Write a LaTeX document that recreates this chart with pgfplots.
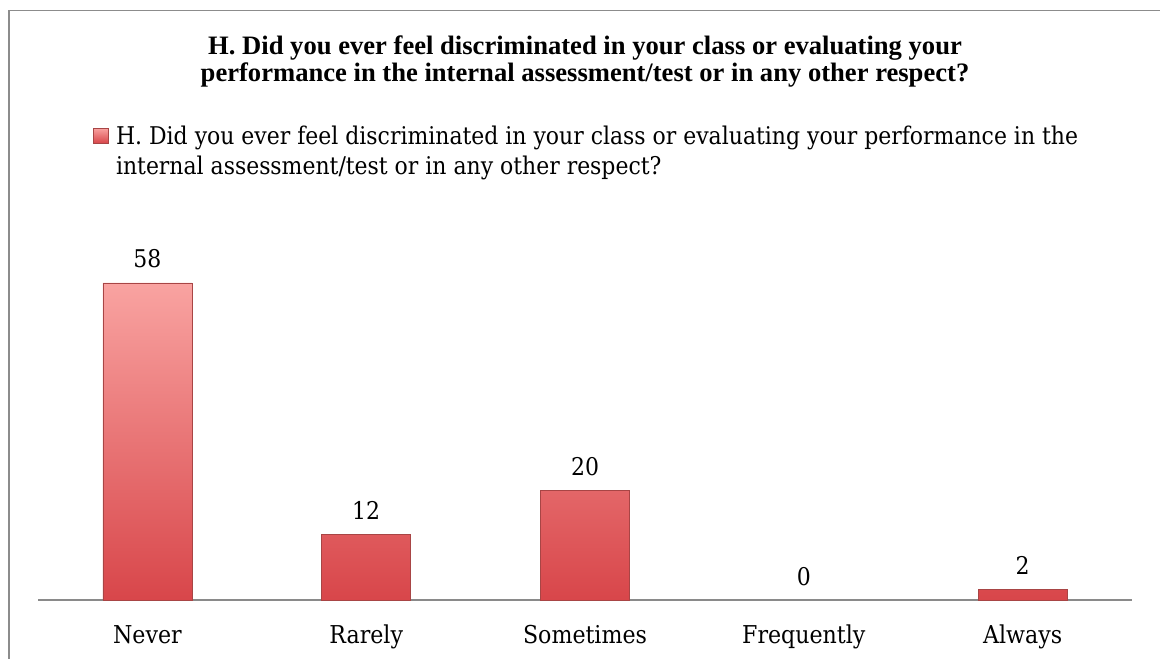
\documentclass[border=0pt]{standalone}
\usepackage{fontspec}
\setmainfont{DejaVu Serif Condensed}
\newfontfamily\titlefont{Liberation Serif}
\usepackage{pgfplots}
\pgfplotsset{compat=1.18}
\definecolor{framegray}{HTML}{8C8C8C}
\definecolor{axisgray}{HTML}{8A8A8A}
\definecolor{bartop}{HTML}{F9A3A1}
\definecolor{barmid}{HTML}{EE8480}
\definecolor{barbot}{HTML}{D8464A}
\definecolor{baredge}{HTML}{A84545}
\begin{document}
\begin{tikzpicture}[x=1pt,y=1pt]
\useasboundingbox (0,0) rectangle (580,329);
\draw[framegray, line width=0.75pt] (4.5,-2) -- (4.5,323.75) -- (582,323.75);
\begin{axis}[
  at={(19pt,29pt)}, anchor=south west,
  scale only axis, width=547pt, height=191.3pt,
  xmin=-0.5, xmax=4.5, ymin=0, ymax=70,
  axis x line=bottom, axis y line=none,
  axis line style={-, draw=axisgray, line width=1pt},
  xtick={0,1,2,3,4},
  xticklabels={Never,Rarely,Sometimes,Frequently,Always},
  major tick length=0pt,
  xticklabel style={font=\fontsize{12.3}{14}\selectfont, anchor=base, yshift=-21.5pt},
  /pgf/number format/assume math mode=true,
  ybar, bar width=44.5pt, bar shift=0pt,
  nodes near coords,
  nodes near coords style={font=\fontsize{12.2}{14}\selectfont, anchor=base, yshift=7.5pt, black},
  legend style={draw=none, fill=none, inner sep=0pt,
    at={(axis description cs:0.0503,1.239)}, anchor=north west,
    font=\fontsize{12.2}{15}\selectfont,
    nodes={inner sep=0pt, align=left}, column sep=3.5pt},
  legend cell align=left,
  legend image code/.code={\path[top color=bartop, bottom color=barbot, draw=baredge, line width=0.3pt] (0pt,4.5pt) rectangle (7.5pt,12pt);},
]
\addplot[top color=bartop, middle color=barmid, bottom color=barbot, draw=baredge, line width=0.35pt]
  coordinates {(0,58) (1,12) (2,20) (4,2)};
\addlegendentry{H. Did you ever feel discriminated in your class or evaluating your performance in the\\internal assessment/test or in any other respect?}
\addplot[draw=none, fill=none, forget plot] coordinates {(3,0)};
\end{axis}
\node[font=\titlefont\bfseries\fontsize{13.3}{14}\selectfont, anchor=base] at (292.5,301.5) {H. Did you ever feel discriminated in your class or evaluating your};
\node[font=\titlefont\bfseries\fontsize{13.3}{14}\selectfont, anchor=base] at (292.5,288) {performance in the internal assessment/test or in any other respect?};
\end{tikzpicture}
\end{document}
